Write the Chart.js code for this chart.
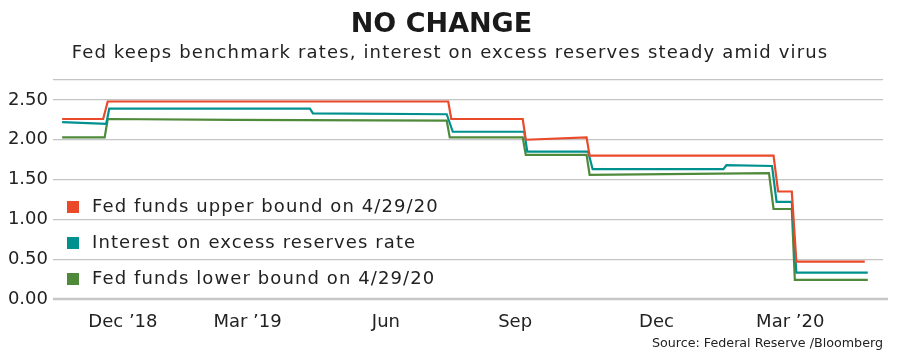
<!DOCTYPE html>
<html><head><meta charset="utf-8">
<script src="https://cdn.jsdelivr.net/npm/chart.js@4"></script>
<style>html,body{margin:0;padding:0;background:#fff;}canvas{display:block;}</style>
</head><body>
<canvas id="c" width="900" height="358"></canvas>
<script>
// ---- data ----
const seriesNames = ['Fed funds upper bound on 4/29/20', 'Interest on excess reserves rate', 'Fed funds lower bound on 4/29/20'];
const seriesColors = ['#ea4a2a', '#00918f', '#4f8a3b'];

const upperDates  = ['2018-11-18','2018-12-15','2018-12-18','2019-07-30','2019-08-01','2019-09-17','2019-09-19','2019-10-29','2019-10-31','2020-02-29','2020-03-03','2020-03-12','2020-03-15','2020-04-29'];
const upperValues = [2.26, 2.26, 2.48, 2.48, 2.26, 2.26, 2.00, 2.03, 1.80, 1.80, 1.35, 1.35, 0.47, 0.47];

const iorDates  = ['2018-11-18','2018-12-17','2018-12-19','2019-04-30','2019-05-02','2019-07-29','2019-08-02','2019-09-18','2019-09-20','2019-10-30','2019-11-02','2020-01-27','2020-01-29','2020-02-28','2020-03-02','2020-03-12','2020-03-15','2020-05-01'];
const iorValues = [2.22, 2.20, 2.39, 2.39, 2.33, 2.32, 2.10, 2.10, 1.85, 1.85, 1.63, 1.63, 1.68, 1.67, 1.22, 1.22, 0.33, 0.33];

const lowerDates  = ['2018-11-18','2018-12-16','2018-12-18','2019-03-10','2019-07-29','2019-07-31','2019-09-17','2019-09-19','2019-10-29','2019-10-31','2020-02-26','2020-02-29','2020-03-12','2020-03-14','2020-05-01'];
const lowerValues = [2.03, 2.03, 2.26, 2.25, 2.24, 2.03, 2.03, 1.81, 1.81, 1.56, 1.58, 1.13, 1.13, 0.24, 0.24];

const tickDates  = ['2018-12-28','2019-03-20','2019-06-19','2019-09-12','2019-12-14','2020-03-11'];
const tickLabels = ['Dec \u201918','Mar \u201919','Jun','Sep','Dec','Mar \u201920'];
const yTicks = [0, 0.5, 1, 1.5, 2, 2.5, 2.75];
const xRange = ['2018-11-12', '2020-05-11'];

const titleText = 'NO CHANGE';
const subtitleText = 'Fed keeps benchmark rates, interest on excess reserves steady amid virus';
const sourceText = 'Source: Federal Reserve /Bloomberg';

// ---- helpers ----
const FONT = '"DejaVu Sans", sans-serif';
const DAY = 86400000, BASE = Date.parse('2018-11-01');
const toDay = s => (Date.parse(s) - BASE) / DAY;
const pts = (d, v) => d.map((s, i) => ({x: toDay(s), y: v[i]}));

const textPlugin = {
  id: 'texts',
  beforeDatasetsDraw(chart) {
    const {ctx, chartArea: a} = chart;
    ctx.save();
    ctx.strokeStyle = '#c6c6c6';
    ctx.lineWidth = 2.5;
    ctx.beginPath();
    ctx.moveTo(a.left, a.bottom);
    ctx.lineTo(a.right + 5, a.bottom);
    ctx.stroke();
    ctx.restore();
  },
  afterDraw(chart) {
    const {ctx, chartArea: a} = chart;
    ctx.save();
    ctx.fillStyle = '#222';
    // subtitle
    ctx.font = '18px ' + FONT;
    ctx.letterSpacing = '1.15px';
    ctx.textAlign = 'center';
    ctx.textBaseline = 'middle';
    ctx.fillText(subtitleText, 450, 53);
    // legend
    ctx.letterSpacing = '1.1px';
    ctx.textAlign = 'left';
    const rows = [207, 243, 279];
    seriesNames.forEach((n, i) => {
      ctx.fillStyle = seriesColors[i];
      ctx.fillRect(a.left + 14, rows[i] - 6, 12, 12);
      ctx.fillStyle = '#222';
      ctx.fillText(n, a.left + 39, rows[i]);
    });
    // source
    ctx.letterSpacing = '0px';
    ctx.font = '12.7px ' + FONT;
    ctx.textAlign = 'right';
    ctx.fillText(sourceText, a.right, 344);
    ctx.restore();
  }
};

const mkSet = (i, d, v) => ({
  label: seriesNames[i], data: pts(d, v),
  borderColor: seriesColors[i], backgroundColor: seriesColors[i],
  borderWidth: 2.2, pointRadius: 0, tension: 0, fill: false
});

new Chart(document.getElementById('c'), {
  type: 'line',
  data: { datasets: [
    mkSet(0, upperDates, upperValues),
    mkSet(1, iorDates, iorValues),
    mkSet(2, lowerDates, lowerValues)
  ]},
  options: {
    responsive: false, animation: false, devicePixelRatio: 1,
    layout: {padding: {left: 0, right: 17, top: 0, bottom: 0}},
    plugins: {
      legend: {display: false},
      tooltip: {enabled: false},
      title: {display: true, text: titleText, color: '#1a1a1a',
        font: {family: FONT, size: 27, weight: 'bold'},
        padding: {top: 9, bottom: 38.6}}
    },
    scales: {
      x: {
        type: 'linear', min: toDay(xRange[0]), max: toDay(xRange[1]),
        grid: {display: false}, border: {display: false},
        afterBuildTicks: s => { s.ticks = tickDates.map(d => ({value: toDay(d)})); },
        afterFit: s => { s.height = 59; s.paddingLeft = 0; s.paddingRight = 0; },
        ticks: {autoSkip: false, maxRotation: 0, padding: 5, color: '#222',
          font: {family: FONT, size: 18},
          callback: (v, i) => tickLabels[i]}
      },
      y: {
        min: 0, max: 2.75,
        afterBuildTicks: s => { s.ticks = yTicks.map(v => ({value: v})); },
        afterFit: s => { s.width = 53; s.paddingTop = 0; s.paddingBottom = 0; },
        grid: {color: '#c4c4c4', lineWidth: 1.2, drawTicks: false},
        border: {display: false},
        ticks: {padding: 5, color: '#222', font: {family: FONT, size: 18},
          callback: v => (v === 2.75 ? '' : Number(v).toFixed(2))}
      }
    }
  },
  plugins: [textPlugin]
});
</script>
</body></html>
